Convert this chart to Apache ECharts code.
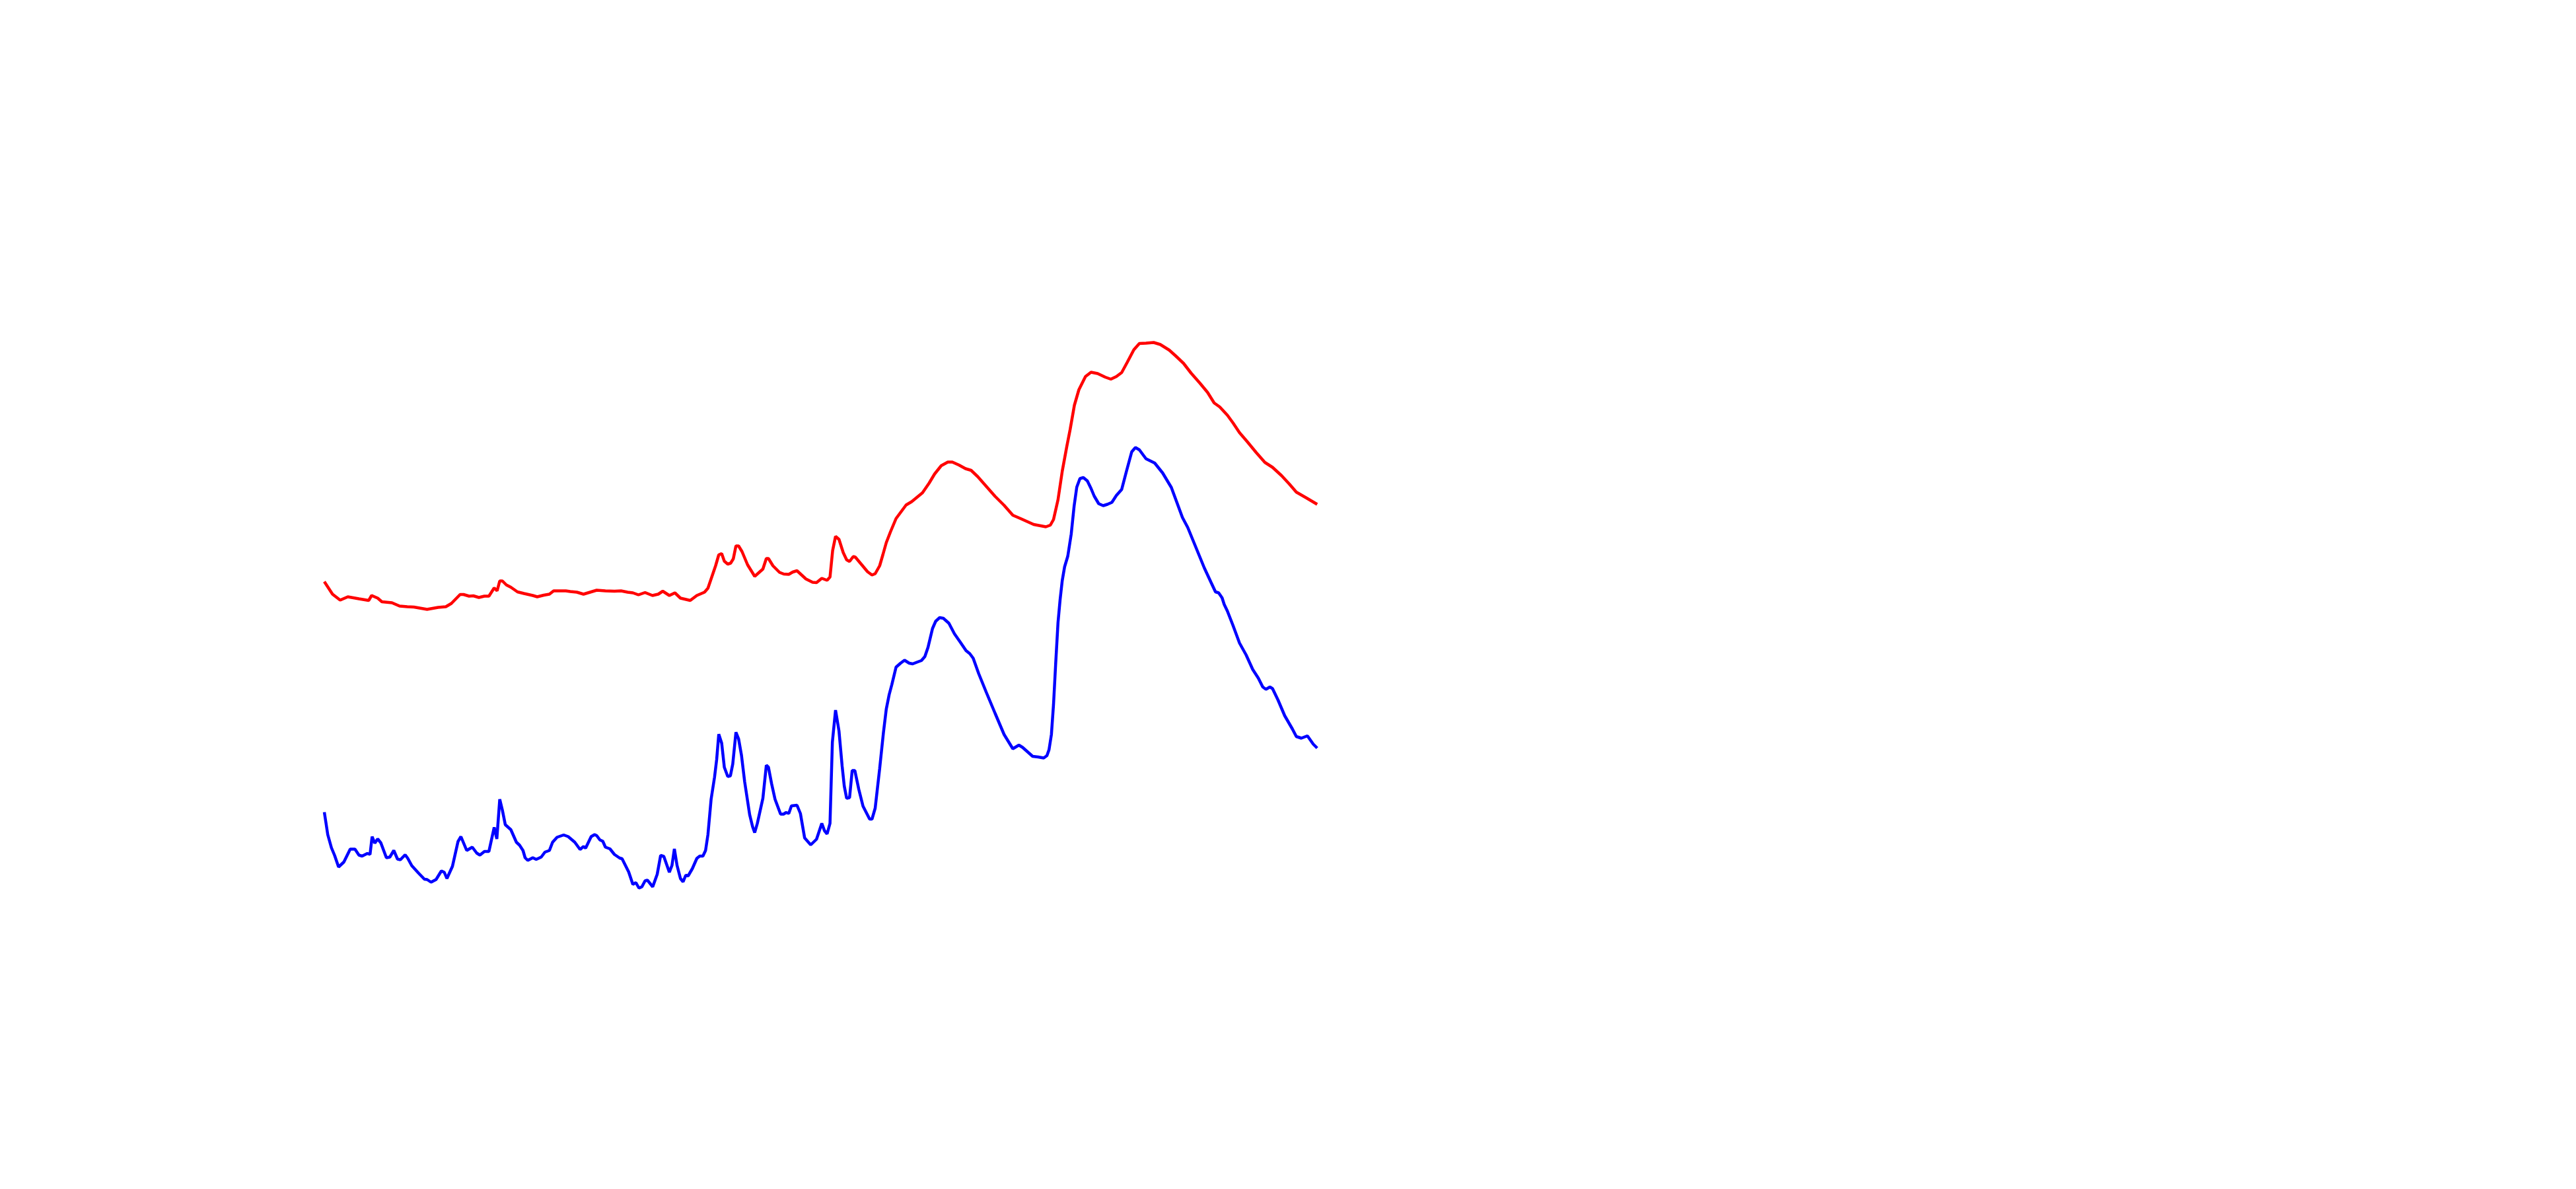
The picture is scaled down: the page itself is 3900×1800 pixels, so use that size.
<!DOCTYPE html>
<html>
<head>
<meta charset="utf-8">
<script src="https://cdn.jsdelivr.net/npm/echarts@6/dist/echarts.min.js"></script>
<style>html,body{margin:0;padding:0;background:#fff;}#c{width:3900px;height:1800px;}</style>
</head>
<body>
<div id="c"></div>
<script>
const redX = [0,3.1,6.0,8.9,13.1,16.8,17.9,20.2,21.8,25.6,28.5,31.4,33.9,38.9,43.1,46.0,48.1,51.4,52.7,54.8,56.4,58.5,60.6,62.3,64.3,
65.4,66.4,67.4,68.9,70.6,73.1,75.6,78.9,80.6,83.1,85.2,86.8,88.9,91.4,93.1,95.6,98.1,100.6,103.1,106.4,109.8,112.3,114.8,116.8,118.9,121.4,124.2,126.4,128.1,
130.6,132.7,134.8,138.5,141.0,143.9,145.2,148.1,149.3,150.4,151.4,152.7,153.8,154.8,155.8,156.8,158.1,160.2,162.9,166.0,167.3,168.1,169.8,172.3,173.9,175.8,177.3,178.9,182.3,184.8,186.3,188.3,190.3,191.4,192.4,193.5,
194.8,196.4,197.7,198.8,200.2,201.0,203.1,205.6,207.3,208.5,210.2,211.4,212.7,214.3,216.4,220.2,222.3,226.4,228.9,231.0,233.5,236.0,237.7,240.2,242.7,244.8,247.3,250.6,253.9,257.3,
260.6,263.5,268.5,273.1,274.8,276.0,277.7,279.3,281.0,282.3,283.9,285.6,288.1,290.2,292.7,295.6,297.7,299.8,301.8,303.9,306.4,308.5,311.0,313.9,316.4,319.8,322.3,
325.2,328.1,331.4,334.3,336.8,338.9,341.8,343.9,346.4,349.3,352.7,356.0,358.9,362.3,365.2,367.9,371.8,375.8];
const redY = [103.9,100.1,98.3,99.3,98.7,98.2,99.7,98.9,97.8,97.5,96.5,96.3,96.2,95.5,96.1,96.3,97.3,100.0,100.0,99.5,99.6,99.1,99.5,99.5,102.0,
101.1,104.1,104.1,102.9,102.2,100.8,100.3,99.7,99.3,99.8,100.1,101.1,101.1,101.1,100.9,100.7,100.1,100.7,101.3,101.1,101.0,101.1,100.7,100.5,99.9,100.6,99.7,100.1,101.0,
99.7,100.5,98.9,98.2,99.7,100.7,101.9,108.7,112.0,112.4,110.1,109.2,109.5,110.8,114.7,114.7,113.0,109.0,105.5,107.7,110.9,110.9,108.7,106.7,106.2,106.1,106.8,107.2,104.7,103.7,103.6,104.9,104.3,105.3,113.3,117.6,
116.7,112.7,110.5,110.0,111.5,111.3,109.3,106.9,105.9,106.3,108.7,112.0,115.7,119.0,123.0,127.1,128.1,130.8,133.7,136.5,139.0,140.1,140.1,139.2,138.1,137.6,135.7,132.7,129.7,127.0,
124.0,123.0,121.2,120.5,121.0,122.7,128.7,137.3,144.7,150.0,157.3,162.0,166.0,167.3,166.9,165.8,165.2,166.0,167.2,170.3,174.1,176.0,176.1,176.3,175.7,174.0,172.2,
170.0,167.0,164.0,161.2,158.0,156.8,154.3,152.0,149.0,146.3,143.0,140.0,138.5,136.0,133.5,131.0,129.2,127.3];

const blueX = [0,0.6,1.3,2.7,3.9,5.4,7.4,9.8,11.6,13.1,14.3,16.3,17.3,18.1,19.1,20.2,21.4,23.5,24.8,26.3,27.7,28.8,30.6,31.6,33.1,35.6,37.9,38.9,40.4,42.3,44.3,45.4,46.4,48.5,50.6,51.7,53.9,56.0,57.7,58.9,60.6,62.3,64.3,
65.3,66.4,67.4,68.5,70.6,72.7,73.9,75.2,76.0,77.0,78.9,80.2,82.1,83.5,85.2,86.4,88.1,90.6,92.3,94.8,96.8,98.1,98.9,101.0,102.3,103.1,104.3,105.4,106.4,108.1,109.8,111.8,112.7,115.2,116.8,117.9,119.1,120.2,121.4,122.3,124.3,126.0,127.3,128.5,
130.6,131.6,132.5,133.5,134.8,135.8,136.8,137.7,139.3,141.0,142.1,143.3,144.3,145.2,146.4,147.7,148.5,149.3,150.4,151.4,152.7,153.7,154.6,155.8,156.8,157.9,159.1,161.0,162.1,162.9,163.9,166.0,167.3,168.1,169.3,170.6,172.7,173.8,174.8,175.8,176.8,178.9,180.2,181.8,184.1,186.3,188.3,189.3,190.3,191.4,192.3,193.5,
194.8,196.0,196.8,197.7,198.8,199.8,200.8,202.3,203.9,206.4,207.3,208.5,210.2,211.6,212.7,213.8,214.8,216.4,218.1,219.6,221.4,222.7,224.3,226.0,227.3,228.5,230.2,231.4,232.9,234.3,236.4,238.5,240.6,242.9,244.3,245.6,247.7,250.6,253.9,257.3,
260.6,262.9,264.3,268.1,270.2,272.3,273.5,274.3,275.2,276.0,276.8,277.7,278.5,279.3,280.2,281.4,282.7,283.8,284.8,286.0,287.3,288.8,290.2,291.4,293.1,294.8,296.4,298.1,299.8,301.8,303.5,305.6,307.0,308.5,311.0,314.3,317.3,320.6,324.8,326.8,
333.1,335.6,337.3,338.5,339.8,340.6,341.8,343.9,346.4,348.9,351.4,353.5,355.2,356.4,357.9,358.9,361.0,363.5,366.4,367.9,369.8,372.1,374.3,375.8];
const blueY = [34.1,31.0,27.3,23.3,21.0,17.5,19.0,22.9,22.9,21.1,20.8,21.6,21.3,26.7,24.7,26.0,24.8,20.3,20.5,22.5,19.9,19.7,21.2,20.1,17.9,15.7,13.8,13.7,12.9,13.7,16.3,15.9,14.0,17.7,25.2,26.7,22.5,23.5,21.7,21.1,22.2,22.2,29.5,
26.0,38.0,34.7,30.3,28.8,25.0,24.1,22.5,20.3,19.5,20.3,19.8,20.5,22.0,22.5,25.0,26.5,27.2,26.7,25.0,22.8,23.7,23.2,26.7,27.3,27.0,25.7,25.3,23.5,23.0,21.3,20.2,20.0,16.0,12.2,12.8,11.1,11.5,13.3,13.5,11.5,15.3,21.0,20.7,
15.9,18.0,23.0,18.0,14.0,13.0,15.0,14.8,17.0,20.1,20.8,20.8,22.5,27.3,38.0,44.7,50.0,57.7,55.0,47.7,44.9,45.1,48.7,58.3,56.3,51.3,43.3,33.3,29.7,27.9,30.7,38.3,48.3,47.7,42.7,38.0,33.5,33.5,34.0,33.7,36.0,36.2,33.7,26.3,24.2,25.9,30.7,28.5,27.5,30.7,55.3,65.0,
58.7,48.0,42.0,38.3,38.5,46.7,46.7,41.0,35.9,32.0,32.0,35.3,47.3,58.0,65.3,69.7,72.7,78.0,79.2,80.1,79.2,79.0,79.5,80.0,81.2,84.0,89.7,91.9,93.0,92.8,91.3,88.1,85.7,83.0,82.1,80.7,76.0,70.3,64.0,57.6,
53.3,54.4,53.7,51.0,50.8,50.5,51.2,53.0,57.6,66.7,78.8,91.5,98.5,104.2,108.4,111.6,118.3,126.8,132.5,135.1,135.4,134.4,132.1,129.8,127.5,126.9,127.3,127.9,130.0,131.8,137.0,143.2,144.5,143.8,141.1,139.8,136.8,132.4,123.3,120.3,
108.0,103.7,100.8,100.5,99.0,97.0,95.0,90.7,85.3,81.7,77.3,74.7,72.0,71.3,72.0,71.5,68.0,63.3,59.3,57.0,56.5,57.2,54.7,53.5];

function zip(xs, ys) { return xs.map((x, i) => [x, ys[i]]); }

const chart = echarts.init(document.getElementById('c'), null, {renderer: 'canvas'});
chart.setOption({
  animation: false,
  backgroundColor: '#ffffff',
  grid: {left: 491, right: 1905, top: 400, bottom: 400, containLabel: false},
  xAxis: {type: 'value', min: 0, max: 376, show: false, splitLine: {show: false}},
  yAxis: {type: 'value', min: 0, max: 200, show: false, splitLine: {show: false}},
  series: [
    {type: 'line', data: zip(redX, redY), showSymbol: false, symbol: 'none',
     lineStyle: {color: '#ff0000', width: 4.5}, itemStyle: {color: '#ff0000'}},
    {type: 'line', data: zip(blueX, blueY), showSymbol: false, symbol: 'none',
     lineStyle: {color: '#0000ff', width: 4.5}, itemStyle: {color: '#0000ff'}}
  ]
});
</script>
</body>
</html>
